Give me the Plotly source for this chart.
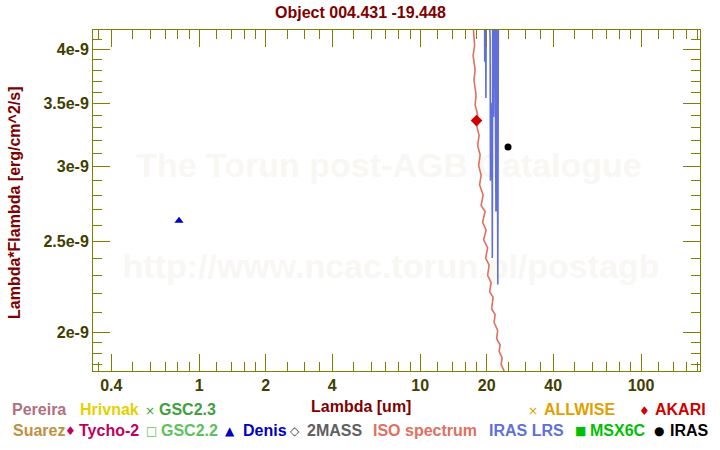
import math
import plotly.graph_objects as go

# ---------------- data ----------------
iso_wl = [17.01, 17.37, 17.65, 17.37, 17.74, 17.52, 17.92, 17.74, 18.21, 18.02,
          18.49, 18.21, 18.69, 18.40, 18.88, 18.59, 19.28, 18.88, 19.69, 19.18,
          19.89, 19.38, 20.21, 19.79, 20.53, 20.21, 20.96, 20.63, 21.40, 21.07,
          21.85, 21.62, 22.43, 22.20, 23.02, 22.78, 23.51, 23.26, 24.00, 24.51]
iso_flux = [4.51, 4.19, 4.04, 3.94, 3.80, 3.71, 3.58, 3.49, 3.41, 3.32,
            3.24, 3.16, 3.09, 3.01, 2.94, 2.87, 2.80, 2.73, 2.69, 2.62,
            2.57, 2.51, 2.46, 2.40, 2.36, 2.30, 2.26, 2.21, 2.18, 2.12,
            2.09, 2.05, 2.01, 1.97, 1.94, 1.91, 1.88, 1.85, 1.82, 1.71]

lrs_wl = [19.48, 19.61, 19.69, 19.85, 20.00, 20.74, 20.81, 21.14, 21.22, 21.36, 21.51,
          21.67, 22.04, 22.15, 22.31, 22.41, 22.47, 22.66]
lrs_flux = [6.0, 3.88, 6.0, 3.55, 6.0, 4.08, 2.90, 3.51, 2.40, 6.0, 3.39,
            6.0, 2.69, 6.0, 2.69, 2.90, 2.25, 6.0]

denis_wl = [0.81]
denis_flux = [2.63]
akari_wl = [18.0]
akari_flux = [3.36]
iras_wl = [25.0]
iras_flux = [3.15]

x_tickvals = [0.4, 1, 2, 4, 10, 20, 40, 100]
x_ticktext = ["0.4", "1", "2", "4", "10", "20", "40", "100"]
x_minor = [0.35, 0.5, 0.6, 0.7, 0.8, 0.9, 1.2, 1.4, 1.6, 1.8, 2.5, 3, 3.5,
           5, 6, 7, 8, 9, 12, 14, 16, 18, 25, 30, 35, 50, 60, 70, 80, 90,
           120, 140, 160, 180]
y_tickvals = [2.0, 2.5, 3.0, 3.5, 4.0]
y_ticktext = ["2e-9", "2.5e-9", "3e-9", "3.5e-9", "4e-9"]
y_minor = [1.85, 1.9, 1.95, 2.1, 2.2, 2.3, 2.4, 2.6, 2.7, 2.8, 2.9,
           3.1, 3.2, 3.3, 3.4, 3.6, 3.7, 3.8, 3.9, 4.1]

watermark_texts = ["The Torun post-AGB Catalogue", "http://www.ncac.torun.pl/postagb"]

legend_labels = ["Pereira", "Hrivnak", "GSC2.3", "ALLWISE", "AKARI",
                 "Suarez", "Tycho-2", "GSC2.2", "Denis", "2MASS",
                 "ISO spectrum", "IRAS LRS", "MSX6C", "IRAS"]
legend_symbols = ["", "", "×", "×", "♦", "", "♦", "□", "▲", "◇", "", "", "■", "●"]
legend_colors = ["#b07080", "#e6d000", "#40a040", "#e0a000", "#d00000",
                 "#c09040", "#c00060", "#60c060", "#0000c0", "#606060",
                 "#e07060", "#6070d8", "#00c000", "#000000"]
symbol_colors = ["", "", "#40a040", "#e0a000", "#d00000",
                 "", "#c00060", "#60c060", "#0000c0", "#404040",
                 "", "", "#00c000", "#000000"]

E = 1e-9
FONT = "Liberation Sans, Arial, sans-serif"

# ---------------- layout geometry (pixels) ----------------
L, R, T, B = 93, 700, 30, 371
W, H = 720, 450
XLOG = [math.log10(0.3304), math.log10(184.9)]
YLOG = [math.log10(2e-9) - 38.4 / 940, math.log10(4e-9) + 19.3 / 940]


def px(x):
    return (x - L) / (R - L)


def py(y):
    return (B - y) / (B - T)


legend_text_x = [10, 78, 157, 542, 653, 11, 77, 159, 241, 305, 371, 487, 588, 668]
legend_sym_x = [0, 0, 150, 533, 644, 0, 70, 151, 230, 295, 0, 0, 580, 659]
legend_y = [410, 410, 410, 410, 410, 430, 430, 430, 430, 430, 430, 430, 430, 430]
watermark_pos = [(389, 162), (391, 263)]

fig = go.Figure()

fig.add_trace(go.Scatter(x=iso_wl, y=[v * E for v in iso_flux], mode="lines",
                         line=dict(color="#e07060", width=1.6), showlegend=False))
fig.add_trace(go.Scatter(x=lrs_wl, y=[v * E for v in lrs_flux], mode="lines",
                         line=dict(color="#6070d8", width=1.6), showlegend=False))
fig.add_trace(go.Scatter(x=denis_wl, y=[v * E for v in denis_flux], mode="markers",
                         marker=dict(symbol="triangle-up", size=8, color="#0000c0"),
                         showlegend=False))
fig.add_trace(go.Scatter(x=akari_wl, y=[v * E for v in akari_flux], mode="markers",
                         marker=dict(symbol="diamond", size=9, color="#d00000"),
                         showlegend=False))
fig.add_trace(go.Scatter(x=iras_wl, y=[v * E for v in iras_flux], mode="markers",
                         marker=dict(symbol="circle", size=7, color="#000000"),
                         showlegend=False))

tickfont = dict(family=FONT, size=16, color="#404000", weight="bold")
axcol = "#808000"

fig.update_xaxes(type="log", range=XLOG,
                 tickmode="array", tickvals=x_tickvals, ticktext=x_ticktext,
                 ticks="inside", ticklen=17, tickwidth=1, tickcolor=axcol,
                 showline=True, linecolor=axcol, linewidth=1, mirror="ticks",
                 showgrid=False, zeroline=False, tickfont=tickfont,
                 minor=dict(tickmode="array", tickvals=x_minor, ticks="inside",
                            ticklen=9, tickwidth=1, tickcolor=axcol, showgrid=False))
fig.update_yaxes(type="log", range=YLOG,
                 tickmode="array", tickvals=[v * E for v in y_tickvals], ticktext=y_ticktext,
                 ticks="inside", ticklen=17, tickwidth=1, tickcolor=axcol,
                 showline=True, linecolor=axcol, linewidth=1, mirror="ticks",
                 showgrid=False, zeroline=False, tickfont=tickfont,
                 minor=dict(tickmode="array", tickvals=[v * E for v in y_minor], ticks="inside",
                            ticklen=9, tickwidth=1, tickcolor=axcol, showgrid=False))

# watermark as labels of invisible shapes drawn below the data
shapes = []
for txt, (wx, wy) in zip(watermark_texts, watermark_pos):
    shapes.append(dict(type="rect", xref="paper", yref="paper", layer="below",
                       x0=px(wx - 5), x1=px(wx + 5), y0=py(wy + 5), y1=py(wy - 5),
                       line=dict(width=0), fillcolor="rgba(0,0,0,0)",
                       label=dict(text=txt, textposition="middle center",
                                  font=dict(family=FONT, size=34, color="#f9f7f3",
                                            weight="bold"))))

ann = []
# title
ann.append(dict(x=px(360), y=py(12), xref="paper", yref="paper", showarrow=False,
                xanchor="center", yanchor="middle",
                text="<b>Object 004.431 -19.448</b>",
                font=dict(family=FONT, size=16, color="#800000")))
# axis titles
ann.append(dict(x=px(361), y=py(407), xref="paper", yref="paper", showarrow=False,
                xanchor="center", yanchor="middle",
                text="<b>Lambda [um]</b>",
                font=dict(family=FONT, size=16, color="#800000")))
ann.append(dict(x=px(14), y=py(203), xref="paper", yref="paper", showarrow=False,
                xanchor="center", yanchor="middle",
                text="<b>Lambda*Flambda [erg/cm^2/s]</b>", textangle=-90,
                font=dict(family=FONT, size=16, color="#800000")))
# legend texts
for lab, sym, col, scol, tx, sx, ly in zip(legend_labels, legend_symbols, legend_colors,
                                           symbol_colors, legend_text_x, legend_sym_x, legend_y):
    ann.append(dict(x=px(tx), y=py(ly), xref="paper", yref="paper", showarrow=False,
                    xanchor="left", yanchor="middle", text="<b>" + lab + "</b>",
                    font=dict(family=FONT, size=16, color=col)))
    if sym:
        ann.append(dict(x=px(sx), y=py(ly + 1), xref="paper", yref="paper", showarrow=False,
                        xanchor="center", yanchor="middle", text=sym,
                        font=dict(family="DejaVu Sans", size=12, color=scol)))

fig.update_layout(width=W, height=H, margin=dict(l=L, r=W - R, t=T, b=H - B),
                  paper_bgcolor="white", plot_bgcolor="rgba(0,0,0,0)",
                  annotations=ann, shapes=shapes, showlegend=False)

fig.write_html("out.html")
